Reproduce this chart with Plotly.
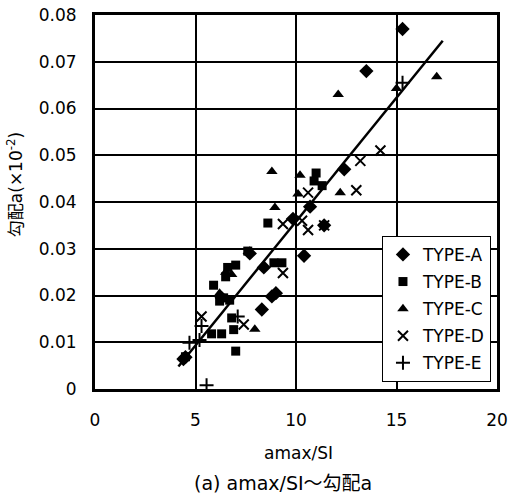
import plotly.graph_objects as go

# ---- data ----
a_x = [15.3, 13.5, 12.4, 11.4, 10.7, 9.85, 10.4, 8.4, 9.0, 8.8, 8.3, 7.7, 4.5, 4.4, 6.3]
a_y = [0.077, 0.068, 0.047, 0.035, 0.039, 0.0364, 0.0285, 0.026, 0.0205, 0.0198, 0.017, 0.029, 0.0068, 0.0064, 0.0195]

b_x = [11.0, 10.9, 11.3, 8.6, 7.6, 8.9, 9.3, 7.0, 6.6, 6.5, 5.9, 6.4, 6.7, 6.2, 6.8, 6.9, 6.3, 5.8, 7.0, 4.5]
b_y = [0.0462, 0.0445, 0.0435, 0.0355, 0.0295, 0.027, 0.027, 0.0265, 0.026, 0.024, 0.0222, 0.0195, 0.019, 0.0188, 0.0152, 0.0127, 0.0118, 0.0118, 0.0081, 0.0069]

c_x = [17.0, 15.0, 12.1, 12.2, 8.8, 10.2, 10.1, 8.95, 7.95, 7.7, 6.5, 6.8, 6.2]
c_y = [0.0668, 0.0643, 0.063, 0.042, 0.0465, 0.0457, 0.0417, 0.0388, 0.0128, 0.0292, 0.025, 0.0245, 0.0205]

d_x = [14.2, 13.2, 13.0, 10.6, 9.35, 10.3, 10.6, 11.4, 9.35, 7.4, 5.3]
d_y = [0.051, 0.0488, 0.0425, 0.042, 0.0353, 0.036, 0.034, 0.035, 0.0248, 0.0138, 0.0155]

e_x = [15.3, 7.1, 5.3, 5.2, 4.7, 5.55]
e_y = [0.0655, 0.0155, 0.0135, 0.0105, 0.0099, 0.0008]

fit_slope = 0.0053
fit_intercept = -0.0172
fit_x = [4.15, 17.3]

x_ticks = [0, 5, 10, 15, 20]
y_ticks = [0, 0.01, 0.02, 0.03, 0.04, 0.05, 0.06, 0.07, 0.08]
y_tick_text = ["0", "0.01", "0.02", "0.03", "0.04", "0.05", "0.06", "0.07", "0.08"]

FONT = "DejaVu Sans, Noto Sans CJK JP, sans-serif"

fig = go.Figure()

series = [
    ("TYPE-A", a_x, a_y, "diamond", 11, None),
    ("TYPE-B", b_x, b_y, "square", 9, None),
    ("TYPE-C", c_x, c_y, "triangle-up", 10, None),
    ("TYPE-D", d_x, d_y, "x-thin", 10, 2),
    ("TYPE-E", e_x, e_y, "cross-thin", 10, 2),
]
for name, xs, ys, sym, size, lw in series:
    marker = dict(symbol=sym, size=size, color="black")
    if lw:
        marker["line"] = dict(width=lw, color="black")
    fig.add_trace(go.Scatter(x=xs, y=ys, mode="markers", name=name, legendgroup=name,
                             marker=marker))

fit_y = [fit_slope * v + fit_intercept for v in fit_x]
fig.add_trace(go.Scatter(x=fit_x, y=fit_y, mode="lines", line=dict(color="black", width=2.5),
                         showlegend=False, hoverinfo="skip"))

fig.update_layout(
    width=511, height=496,
    margin=dict(l=95, r=14, t=15, b=107),
    paper_bgcolor="white", plot_bgcolor="white",
    font=dict(family=FONT, color="black", size=17),
    legend=dict(
        x=0.985, y=0.019, xanchor="right", yanchor="bottom",
        bgcolor="white", bordercolor="black", borderwidth=1,
        font=dict(size=17, family=FONT), itemwidth=30, tracegroupgap=2,
    ),
    annotations=[
        dict(text="勾配a(×10<sup>-2</sup>)", xref="paper", yref="paper", x=-0.199, y=0.545,
             xanchor="center", yanchor="middle", showarrow=False, textangle=-90,
             font=dict(size=17, family=FONT)),
        dict(text="amax/SI", xref="paper", yref="paper", x=0.507, y=-0.171,
             xanchor="center", yanchor="middle", showarrow=False,
             font=dict(size=17, family=FONT)),
        dict(text="(a) amax/SI～勾配a", xref="paper", yref="paper", x=0.468, y=-0.251,
             xanchor="center", yanchor="middle", showarrow=False,
             font=dict(size=19, family=FONT)),
    ],
)
fig.update_xaxes(
    range=[0, 20], tickvals=x_ticks, ticks="", showgrid=True, gridcolor="black", gridwidth=1.5,
    showline=True, linecolor="black", linewidth=3, mirror=True, zeroline=False,
    tickfont=dict(size=17), ticklabelstandoff=14, automargin=False,
)
fig.update_yaxes(
    range=[0, 0.08], tickvals=y_ticks, ticktext=y_tick_text, ticks="", showgrid=True,
    gridcolor="black", gridwidth=1.5,
    showline=True, linecolor="black", linewidth=3, mirror=True, zeroline=False,
    tickfont=dict(size=17), ticklabelstandoff=12, automargin=False,
)

fig.write_html("out.html")
